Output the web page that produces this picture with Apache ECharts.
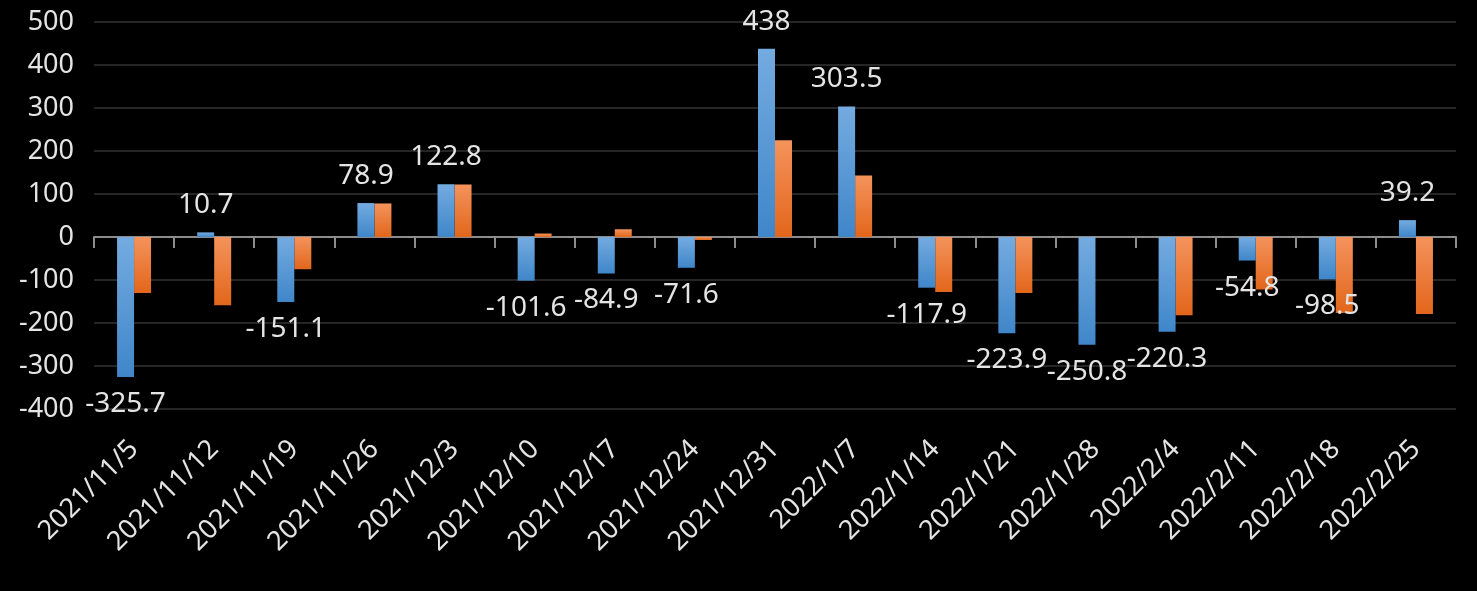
<!DOCTYPE html>
<html>
<head>
<meta charset="utf-8">
<script src="https://cdn.jsdelivr.net/npm/echarts@6/dist/echarts.min.js"></script>
<style>
  html, body { margin: 0; padding: 0; background: #000; }
  #container { width: 1477px; height: 591px; }
</style>
</head>
<body>
<div id="container"></div>
<script>
let categories = ['2021/11/5', '2021/11/12', '2021/11/19', '2021/11/26', '2021/12/3', '2021/12/10',
    '2021/12/17', '2021/12/24', '2021/12/31', '2022/1/7', '2022/1/14', '2022/1/21', '2022/1/28',
    '2022/2/4', '2022/2/11', '2022/2/18', '2022/2/25'];
let blueValues = [-325.7, 10.7, -151.1, 78.9, 122.8, -101.6, -84.9, -71.6, 438, 303.5,
    -117.9, -223.9, -250.8, -220.3, -54.8, -98.5, 39.2];
let orangeValues = [-130, -159, -75, 78, 122, 8, 18, -7, 225, 143,
    -128, -130, 0, -182, -122, -177, -179];
let yTicks = { min: -400, max: 500, interval: 100 };

let dom = document.getElementById("container");
let myChart = echarts.init(dom);
let font = 'Noto Sans';
let textColor = '#e4e4e4';

// 渐变：上浅下深
function grad(light, dark) {
    return new echarts.graphic.LinearGradient(0, 0, 0, 1, [
        { offset: 0, color: light },
        { offset: 1, color: dark }
    ]);
}

// 正值标签在上，负值标签在下
let blueData = blueValues.map(function (v) {
    return {
        value: v,
        label: { position: v >= 0 ? 'top' : 'bottom' }
    };
});

let option = {
    backgroundColor: '#000',
    animation: false,
    grid: { left: 94, right: 21, top: 22, bottom: 182 },
    xAxis: [{
        type: 'category',
        data: categories,
        position: 'bottom',
        axisLine: { show: false, onZero: false },
        axisTick: { show: false },
        axisLabel: {
            rotate: 45,
            margin: 36,
            color: textColor,
            fontSize: 27,
            fontFamily: font,
            interval: 0
        }
    }, {
        type: 'category',
        data: categories,
        position: 'bottom',
        axisLine: { show: true, onZero: true, lineStyle: { color: '#8c8c8c', width: 2 } },
        axisTick: { show: true, length: 11, lineStyle: { color: '#8c8c8c', width: 2 } },
        axisLabel: { show: false }
    }],
    yAxis: {
        type: 'value',
        min: yTicks.min,
        max: yTicks.max,
        interval: yTicks.interval,
        axisLine: { show: false },
        axisTick: { show: false },
        axisLabel: {
            margin: 20,
            color: textColor,
            fontSize: 27,
            fontFamily: font
        },
        splitLine: { lineStyle: { color: '#262626', width: 2 } }
    },
    series: [{
        type: 'bar',
        xAxisIndex: 0,
        data: blueData,
        barWidth: 17,
        barGap: '0%',
        itemStyle: { color: grad('#74abe0', '#3f86c9') },
        label: {
            show: true,
            distance: 13,
            color: textColor,
            fontSize: 28,
            fontFamily: font
        },
        z: 3
    }, {
        type: 'bar',
        xAxisIndex: 0,
        data: orangeValues,
        barWidth: 17,
        barGap: '0%',
        itemStyle: { color: grad('#f4935c', '#e2661b') },
        z: 2
    }]
};

myChart.setOption(option);
</script>
</body>
</html>
